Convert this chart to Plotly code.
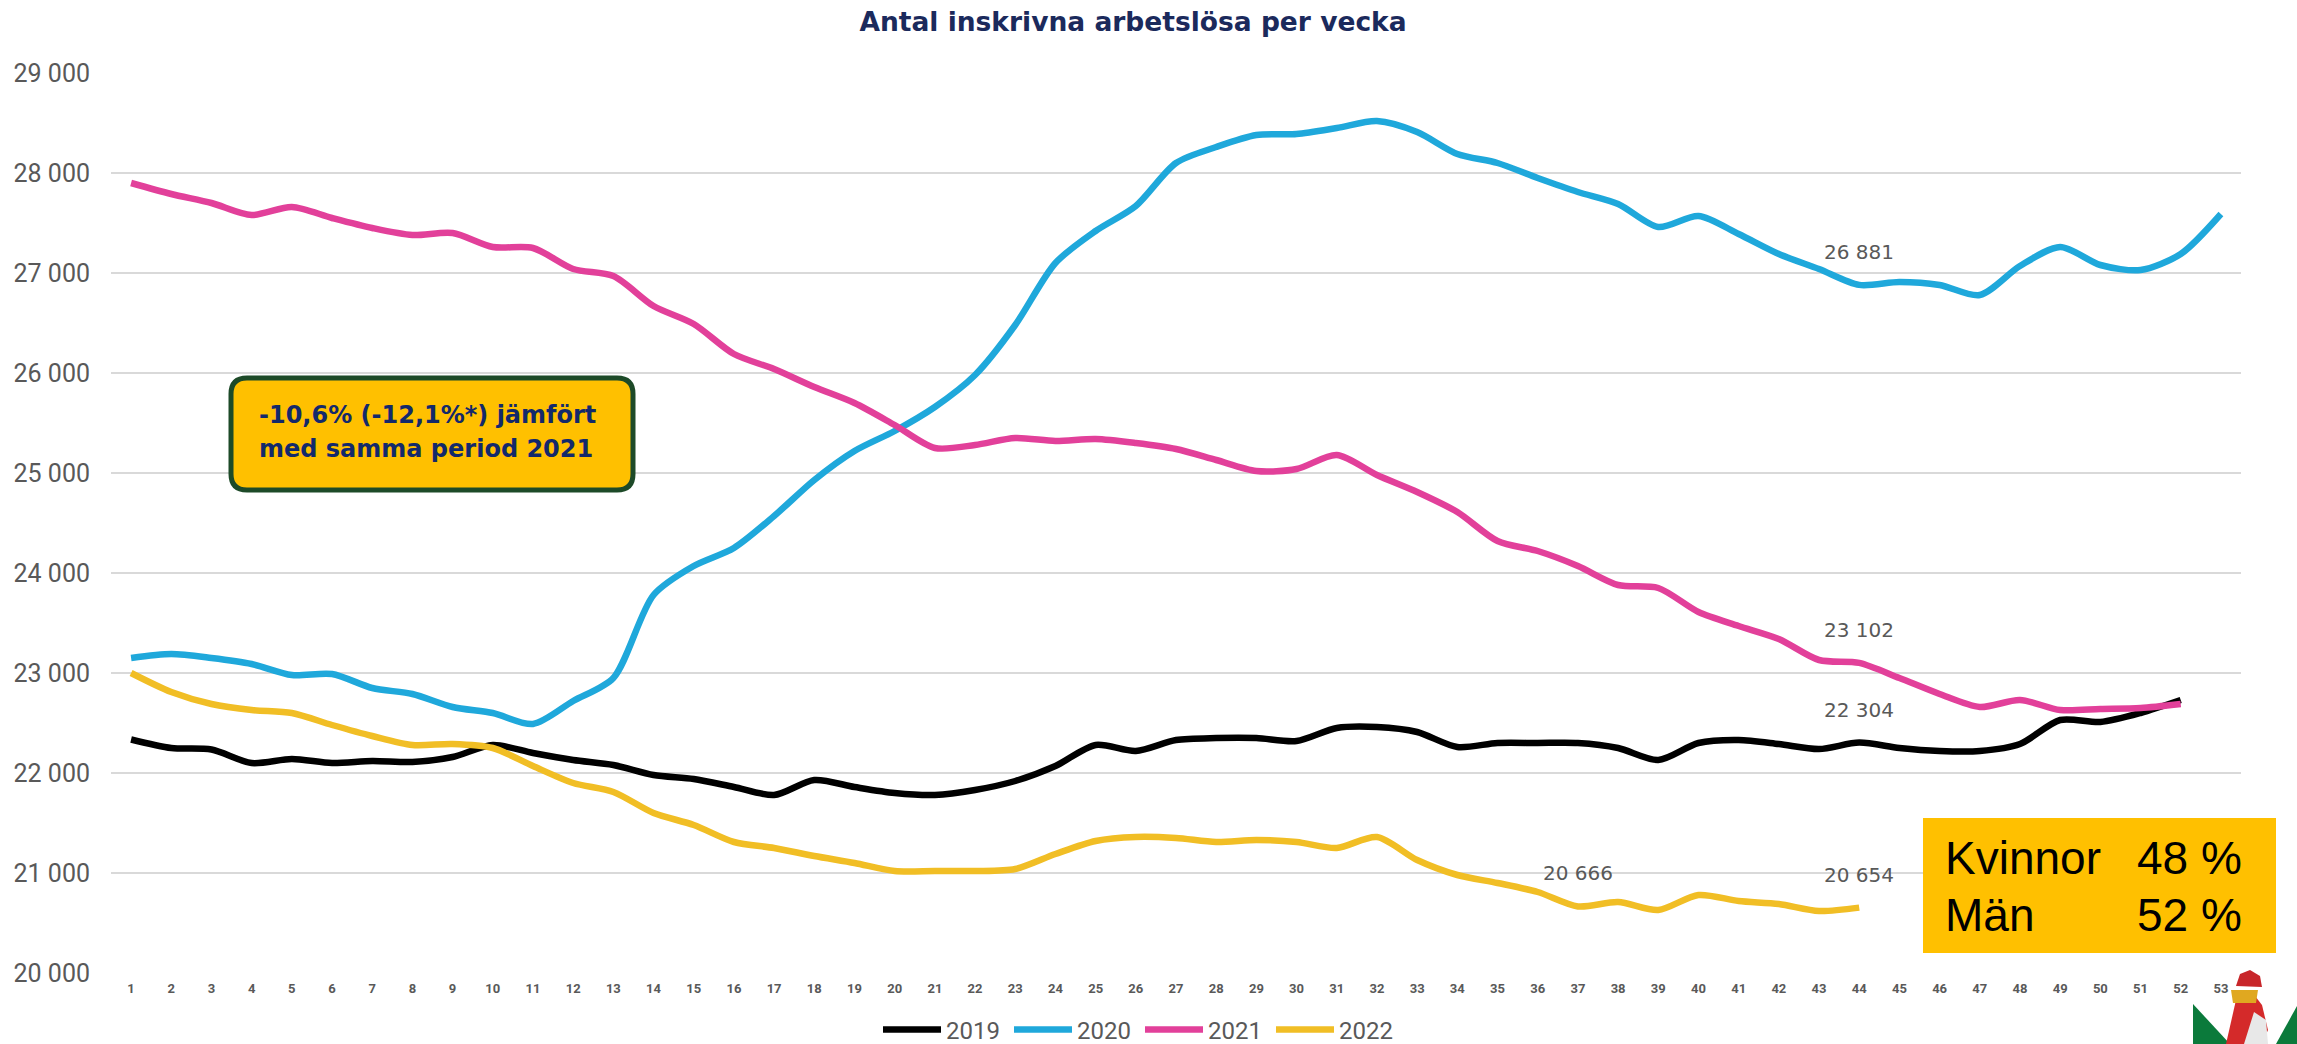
import plotly.graph_objects as go

# ---------------- data ----------------
weeks = list(range(1, 54))
week_labels = [str(w) for w in weeks]

y2019 = [22335, 22250, 22235, 22100, 22140, 22100, 22120, 22110, 22160, 22280,
         22200, 22130, 22080, 21980, 21940, 21860, 21780, 21930, 21860, 21800,
         21780, 21830, 21920, 22070, 22280, 22220, 22330, 22350, 22350, 22320,
         22450, 22460, 22410, 22260, 22300, 22300, 22300, 22250, 22130, 22300,
         22330, 22290, 22240, 22304, 22250, 22220, 22220, 22290, 22530, 22510,
         22600, 22730]

y2020 = [23150, 23190, 23150, 23090, 22980, 22990, 22850, 22790, 22660, 22600,
         22490, 22720, 22950, 23780, 24070, 24250, 24570, 24930, 25220, 25420,
         25660, 25980, 26480, 27100, 27420, 27670, 28100, 28260, 28380, 28390,
         28450, 28520, 28410, 28190, 28100, 27950, 27810, 27690, 27460, 27570,
         27390, 27190, 27040, 26881, 26910, 26880, 26780, 27070, 27260, 27080,
         27030, 27190, 27590]

y2021 = [27900, 27790, 27700, 27580, 27660, 27550, 27450, 27380, 27400, 27260,
         27250, 27040, 26970, 26670, 26490, 26190, 26040, 25860, 25700, 25480,
         25250, 25280, 25350, 25320, 25340, 25300, 25240, 25130, 25020, 25040,
         25180, 24980, 24810, 24610, 24320, 24220, 24070, 23880, 23850, 23610,
         23470, 23340, 23130, 23102, 22950, 22790, 22660, 22730, 22630, 22640,
         22650, 22690]

y2022 = [23000, 22810, 22690, 22630, 22600, 22480, 22370, 22280, 22290, 22250,
         22070, 21900, 21810, 21600, 21480, 21310, 21250, 21170, 21100, 21020,
         21020, 21020, 21040, 21190, 21320, 21360, 21350, 21310, 21330, 21310,
         21250, 21360, 21130, 20980, 20900, 20810, 20666, 20710, 20630, 20780,
         20720, 20690, 20620, 20654]

series_names = ["2019", "2020", "2021", "2022"]
series_values = [y2019, y2020, y2021, y2022]
series_colors = ["#000000", "#1FA8DB", "#E2409A", "#F1BE25"]

# labelled points: (series index, week)
label_points = [(1, 44), (2, 44), (0, 44), (3, 37), (3, 44)]

y_ticks = list(range(20000, 29001, 1000))

title_text = "Antal inskrivna arbetslösa per vecka"
box_lines = ["-10,6% (-12,1%*) jämfört", "med samma period 2021"]
gender_rows = [("Kvinnor", "48 %"), ("Män", "52 %")]

# ---------------- layout geometry (pixels) ----------------
FW, FH = 2297, 1044
L, R, T, B = 111, 2241, 73, 973
PW, PH = R - L, B - T


def px(x):
    return (x - L) / PW


def py(y):
    return (B - y) / PH


def fmt(v):
    return f"{v:,}".replace(",", " ")


fig = go.Figure()
for name, vals, col in zip(series_names, series_values, series_colors):
    fig.add_trace(go.Scatter(
        x=weeks[:len(vals)], y=vals, name=name, mode="lines",
        line=dict(color=col, width=6.5, shape="spline", smoothing=0.8),
        hoverinfo="x+y+name",
    ))

annotations = []
for si, wk in label_points:
    v = series_values[si][wk - 1]
    annotations.append(dict(
        x=wk, y=v, xref="x", yref="y", text=fmt(v), showarrow=False,
        yshift=33, xanchor="center", yanchor="middle",
        font=dict(family="DejaVu Sans", size=20, color="#595959"),
    ))

# rounded annotation box
bx0, bx1, by0, by1, rr = 231, 633, 378, 490, 16


def P(x, y):
    return f"{px(x):.5f},{py(y):.5f}"


box_path = (f"M {P(bx0 + rr, by0)} L {P(bx1 - rr, by0)} Q {P(bx1, by0)} {P(bx1, by0 + rr)} "
            f"L {P(bx1, by1 - rr)} Q {P(bx1, by1)} {P(bx1 - rr, by1)} "
            f"L {P(bx0 + rr, by1)} Q {P(bx0, by1)} {P(bx0, by1 - rr)} "
            f"L {P(bx0, by0 + rr)} Q {P(bx0, by0)} {P(bx0 + rr, by0)} Z")

shapes = [
    dict(type="path", path=box_path, xref="paper", yref="paper",
         fillcolor="#FFC000", line=dict(color="#1D4A28", width=5), layer="above"),
    dict(type="rect", xref="paper", yref="paper",
         x0=px(1923), x1=px(2276), y0=py(818), y1=py(953),
         fillcolor="#FFC000", line=dict(width=0), layer="above"),
]

# rough logo
logo_polys = [
    ([(2193, 1004), (2193, 1044), (2230, 1044)], "#0B7A3B"),
    ([(2297, 1006), (2297, 1044), (2276, 1044)], "#0B7A3B"),
    ([(2226, 1044), (2236, 1000), (2252, 992), (2262, 1005), (2268, 1030), (2262, 1044)], "#D42A2A"),
    ([(2244, 1044), (2254, 1012), (2266, 1020), (2268, 1044)], "#E8E8E8"),
    ([(2231, 990), (2258, 990), (2256, 1003), (2233, 1003)], "#E0A820"),
    ([(2236, 986), (2240, 974), (2250, 970), (2260, 976), (2262, 987)], "#C8262A"),
]
for pts, col in logo_polys:
    path = "M " + " L ".join(P(x, y) for x, y in pts) + " Z"
    shapes.append(dict(type="path", path=path, xref="paper", yref="paper",
                       fillcolor=col, line=dict(width=0), layer="above"))

for i, line in enumerate(box_lines):
    annotations.append(dict(
        x=px(257), y=py(415 + 34 * i), xref="paper", yref="paper", text=line,
        showarrow=False, xanchor="left", yanchor="middle",
        font=dict(family="DejaVu Sans", size=24, color="#13296B", weight="bold"),
    ))

for i, (lab, val) in enumerate(gender_rows):
    yy = py(858 + 57 * i)
    annotations.append(dict(x=px(1943), y=yy, xref="paper", yref="paper", text=lab,
                            showarrow=False, xanchor="left", yanchor="middle",
                            font=dict(family="Liberation Sans", size=46, color="#000000")))
    annotations.append(dict(x=px(2135), y=yy, xref="paper", yref="paper", text=val,
                            showarrow=False, xanchor="left", yanchor="middle",
                            font=dict(family="Liberation Sans", size=46, color="#000000")))

fig.update_layout(
    width=FW, height=FH,
    margin=dict(l=L, r=FW - R, t=T, b=FH - B, autoexpand=False),
    paper_bgcolor="#FFFFFF", plot_bgcolor="#FFFFFF",
    separators=", ",
    title=dict(text=title_text, x=1133 / FW, xref="container", xanchor="center",
               y=1 - 22 / FH, yref="container", yanchor="middle",
               font=dict(family="DejaVu Sans", size=26.5, color="#1B2A5C", weight="bold")),
    xaxis=dict(range=[0.5, 53.5], tickmode="array", tickvals=weeks, ticktext=week_labels,
               showgrid=False, zeroline=False, showline=False, ticks="",
               ticklabelstandoff=6,
               tickfont=dict(family="Roboto", size=13, color="#595959", weight="bold")),
    yaxis=dict(range=[20000, 29000], tickmode="array", tickvals=y_ticks,
               tickformat=",d", showgrid=True, gridcolor="#D9D9D9", gridwidth=2,
               zeroline=False, showline=False, ticks="", ticklabelstandoff=20,
               tickfont=dict(family="Roboto", size=25, color="#595959")),
    showlegend=True,
    legend=dict(orientation="h", x=px(1140), xanchor="center", y=py(1030), yanchor="middle",
                font=dict(family="Roboto", size=24, color="#595959"),
                itemwidth=58, entrywidth=58, entrywidthmode="pixels",
                bgcolor="rgba(0,0,0,0)", traceorder="normal"),
    annotations=annotations,
    shapes=shapes,
)

fig.write_html("out.html", config={"responsive": False, "displayModeBar": False},
               post_script="document.body.style.margin='0';document.body.style.overflow='hidden';")
